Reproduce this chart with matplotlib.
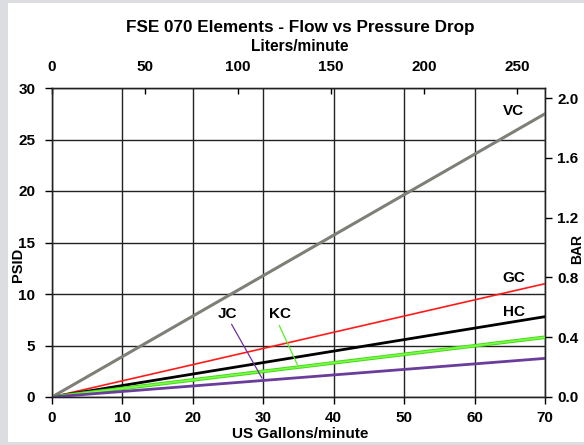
import matplotlib
matplotlib.use("Agg")
import matplotlib.pyplot as plt
from matplotlib.patches import Rectangle

plt.rcParams['font.family'] = ['Liberation Sans', 'DejaVu Sans']
plt.rcParams['font.weight'] = 'bold'

gpm = [0, 70]
series_names = ['VC', 'GC', 'HC', 'KC', 'JC']
vc = [0, 27.5]
gc = [0, 11.0]
hc = [0, 7.8]
kc = [0, 5.8]
jc = [0, 3.75]
x_ticks = [0, 10, 20, 30, 40, 50, 60, 70]
y_ticks = [0, 5, 10, 15, 20, 25, 30]
lpm_ticks = [0, 50, 100, 150, 200, 250]
bar_ticks = [0.0, 0.4, 0.8, 1.2, 1.6, 2.0]
L_PER_GAL = 3.785
PSI_PER_BAR = 14.5038

fig = plt.figure(figsize=(5.84, 4.45), dpi=100)
fig.patch.set_facecolor('#dcdde0')
fig.patches.append(Rectangle((8/584, 3/445), 1 - 8/584, 1 - 3/445 - 3/445,
                             transform=fig.transFigure, facecolor='white',
                             edgecolor='none', zorder=-5))

TS = 11
ax = fig.add_axes([52/584, 1 - 397/445, 493/584, 309/445])
ax.set_xlim(0, 70)
ax.set_ylim(0, 30)
ax.set_xticks(x_ticks)
ax.set_yticks(y_ticks)
ax.grid(True, color='#222222', linewidth=1.0)
ax.set_axisbelow(True)
for s in ax.spines.values():
    s.set_color('#222222')
    s.set_linewidth(1.0)
ax.tick_params(axis='y', labelsize=TS, direction='out', length=5, width=1, pad=7)
ax.tick_params(axis='x', labelsize=TS, direction='out', length=5, width=1, pad=5)
for lab in ax.get_xticklabels() + ax.get_yticklabels():
    lab.set_fontweight('bold')

ax.plot(gpm, vc, color='#7f7f78', linewidth=2.2, zorder=3)
ax.plot(gpm, gc, color='#ff1a1a', linewidth=1.2, zorder=3)
ax.plot(gpm, hc, color='#000000', linewidth=2.0, zorder=3)
ax.plot(gpm, kc, color='#4bd61e', linewidth=2.6, zorder=3)
ax.plot(gpm, kc, color='#77ff44', linewidth=1.2, zorder=3)
ax.plot(gpm, jc, color='#6a3d9a', linewidth=2.0, zorder=3)

lbl = dict(fontsize=TS, fontweight='bold', ha='center', va='center')
ax.text(65.5, 27.8, 'VC', **lbl)
ax.text(65.6, 11.6, 'GC', **lbl)
ax.text(65.6, 8.25, 'HC', **lbl)
ax.text(24.9, 8.1, 'JC', **lbl)
ax.text(32.4, 8.1, 'KC', **lbl)
ax.annotate('', xy=(30, 3.75 * 30 / 70), xytext=(25.3, 7.3),
            arrowprops=dict(arrowstyle='-', color='#7030a0', linewidth=0.9))
ax.annotate('', xy=(35, 5.8 * 35 / 70), xytext=(32.1, 7.2),
            arrowprops=dict(arrowstyle='-', color='#55ee22', linewidth=0.9))

ax_top = ax.twiny()
ax_top.set_xlim(0, 70 * L_PER_GAL)
ax_top.set_xticks(lpm_ticks)
ax_top.tick_params(axis='x', labelsize=TS, direction='in', length=4, width=1, pad=10)
for lab in ax_top.get_xticklabels():
    lab.set_fontweight('bold')

ax_r = ax.twinx()
ax_r.set_ylim(0, 30 / PSI_PER_BAR)
ax_r.set_yticks(bar_ticks)
ax_r.set_yticklabels([f'{v:.1f}' for v in bar_ticks])
ax_r.tick_params(axis='y', labelsize=TS, direction='out', length=5, width=1, pad=4)
for lab in ax_r.get_yticklabels():
    lab.set_fontweight('bold')
for a in (ax_top, ax_r):
    for s in a.spines.values():
        s.set_color('#222222')

fig.text(300/584, 1 - 27.5/445, 'FSE 070 Elements - Flow vs Pressure Drop',
         ha='center', va='center', fontsize=12.3, fontweight='bold')
fig.text(300/584, 1 - 46.5/445, 'Liters/minute', ha='center', va='center',
         fontsize=11.2, fontweight='bold')
fig.text(300/584, 1 - 434/445, 'US Gallons/minute', ha='center', va='center',
         fontsize=11, fontweight='bold')
fig.text(18/584, 1 - 265/445, 'PSID', ha='center', va='center', rotation=90,
         fontsize=10.5, fontweight='bold')
fig.text(577/584, 1 - 249/445, 'BAR', ha='center', va='center', rotation=90,
         fontsize=10, fontweight='bold')

fig.savefig('out.png', dpi=100, facecolor=fig.get_facecolor())
